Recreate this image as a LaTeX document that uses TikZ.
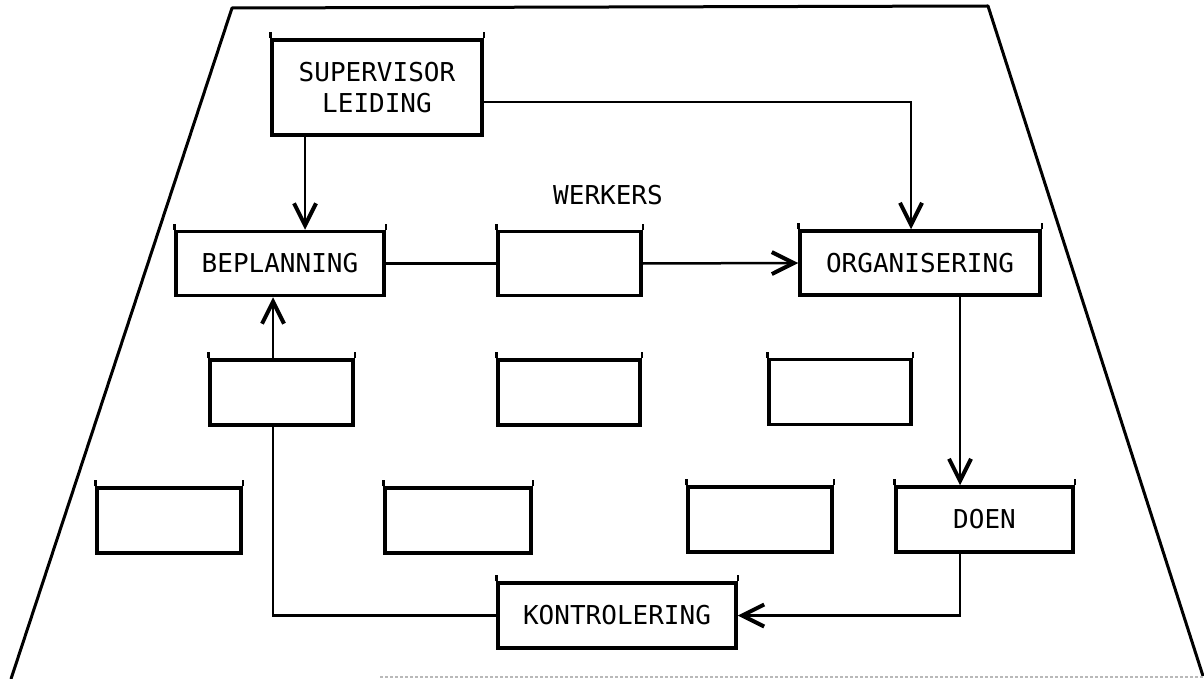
\documentclass[tikz,border=0pt]{standalone}
\usepackage{fontspec}
\setmonofont{DejaVu Sans Mono}
\usetikzlibrary{arrows.meta}

\begin{document}
\begin{tikzpicture}[x=1pt,y=-1pt,font=\ttfamily\fontsize{26}{31}\selectfont,
  taak/.style={draw,line width=3.5pt,inner sep=0pt,minimum height=64pt,
    append after command={(\tikzlastnode.north west) edge[line width=2.5pt] ++(0,6pt)
      (\tikzlastnode.north east) edge[line width=2.5pt] ++(0,6pt)}},
  lyn/.style={line width=2.5pt},
  pyl/.style={lyn,-{Straight Barb[length=22pt,width=22pt,line width=4pt]}}]
\useasboundingbox (0,0) rectangle (1204,679);
% raam
\draw[line width=3pt,line join=round] (11,679) -- (232,8) -- (988,6) -- (1203,676);
\draw[gray!55,line width=1.2pt,densely dashed] (380,677) -- (1203,677);
% leiding en take
\node[taak,minimum width=210pt,minimum height=95pt,align=center] (sup) at (377,87.5) {SUPERVISOR\\LEIDING};
\node (werkers) at (608,195) {WERKERS};
\node[taak,minimum width=208pt] (bep) at (280,263.5) {BEPLANNING};
\node[taak,minimum width=143pt] (wk) at (569.5,263.5) {};
\node[taak,minimum width=240pt] (org) at (920,263) {ORGANISERING};
% werkers
\node[taak,minimum width=143pt,minimum height=65pt] (wa) at (281.5,392.5) {};
\node[taak,minimum width=142pt,minimum height=65pt] (wb) at (569,392.5) {};
\node[taak,minimum width=142pt,minimum height=65pt] (wc) at (840,392) {};
\node[taak,minimum width=144pt,minimum height=65pt] (wd) at (169,520.5) {};
\node[taak,minimum width=146pt,minimum height=65pt] (we) at (458,520.5) {};
\node[taak,minimum width=144pt,minimum height=65pt] (wf) at (760,519.5) {};
\node[taak,minimum width=177pt,minimum height=65pt] (doen) at (984.5,519.5) {DOEN};
\node[taak,minimum width=238pt,minimum height=65pt] (kon) at (617,615.5) {KONTROLERING};
% verbindings
\draw[pyl] ([xshift=-72pt]sup.south) -- ([xshift=-72pt]sup.south |- bep.north);
\draw[pyl] ([yshift=-14.5pt]sup.east) -| ([xshift=-9pt]org.north);
\draw[lyn] (bep.east) -- (wk.west);
\draw[pyl] (wk.east) -- (org.west);
\draw[pyl] ([xshift=40pt]org.south) -- ([xshift=40pt]org.south |- doen.north);
\draw[pyl] ([xshift=-24.5pt]doen.south) |- (kon.east);
\draw[lyn] (kon.west) -| ([xshift=-8.5pt]wa.south);
\draw[pyl] ([xshift=-8.5pt]wa.north) -- ([xshift=-8.5pt]wa.north |- bep.south);
\end{tikzpicture}
\end{document}
